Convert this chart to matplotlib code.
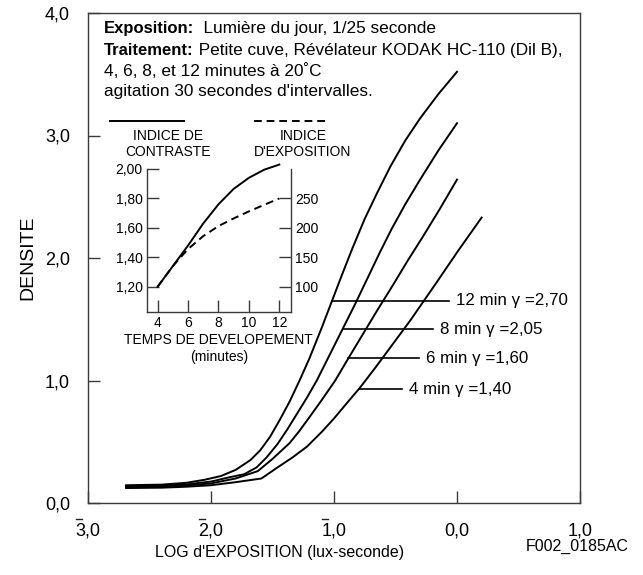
import numpy as np
import matplotlib
matplotlib.use("Agg")
import matplotlib.pyplot as plt
from matplotlib.lines import Line2D
from matplotlib.transforms import ScaledTranslation

plt.rcParams['font.family'] = ['Liberation Sans', 'DejaVu Sans']

# ---- main characteristic curves (log exposure, density) ----
x_12 = [-2.69, -2.4, -2.2, -2.05, -1.92, -1.8, -1.68, -1.6, -1.52, -1.44, -1.36, -1.28, -1.20,
        -1.10, -1.02, -0.94, -0.85, -0.75, -0.65, -0.54, -0.42, -0.30, -0.15, 0.0]
d_12 = [0.145, 0.15, 0.165, 0.19, 0.22, 0.27, 0.35, 0.43, 0.54, 0.68, 0.83, 1.00, 1.18,
        1.43, 1.64, 1.85, 2.08, 2.32, 2.53, 2.75, 2.96, 3.14, 3.34, 3.52]
x_8 = [-2.69, -2.4, -2.2, -2.0, -1.85, -1.73, -1.63, -1.55, -1.46, -1.38, -1.30, -1.22, -1.14,
       -1.04, -0.93, -0.83, -0.73, -0.63, -0.53, -0.42, -0.30, -0.15, 0.0]
d_8 = [0.137, 0.14, 0.152, 0.175, 0.21, 0.235, 0.29, 0.37, 0.48, 0.60, 0.73, 0.86, 1.00,
       1.20, 1.42, 1.62, 1.83, 2.04, 2.24, 2.44, 2.64, 2.88, 3.10]
x_6 = [-2.69, -2.4, -2.2, -2.0, -1.8, -1.62, -1.50, -1.36, -1.28, -1.20, -1.10, -0.99, -0.89,
       -0.77, -0.65, -0.52, -0.40, -0.28, -0.14, 0.0]
d_6 = [0.13, 0.133, 0.143, 0.16, 0.20, 0.26, 0.36, 0.49, 0.59, 0.70, 0.84, 1.00, 1.17,
       1.37, 1.57, 1.78, 1.98, 2.17, 2.40, 2.64]
x_4 = [-2.69, -2.4, -2.2, -2.0, -1.8, -1.59, -1.46, -1.34, -1.22, -1.10, -1.00, -0.90, -0.79,
       -0.66, -0.52, -0.38, -0.18, 0.01, 0.20]
d_4 = [0.122, 0.125, 0.133, 0.145, 0.17, 0.20, 0.29, 0.37, 0.46, 0.58, 0.69, 0.81, 0.94,
       1.11, 1.30, 1.49, 1.78, 2.06, 2.33]

curve_labels = ["12 min \u03b3 =2,70", "8 min \u03b3 =2,05", "6 min \u03b3 =1,60", "4 min \u03b3 =1,40"]
label_levels = [1.65, 1.42, 1.18, 0.93]
label_line_end = [-0.065, -0.195, -0.31, -0.447]

x_ticks = [-3, -2, -1, 0, 1]
x_ticklabels = ['3,0', '2,0', '1,0', '0,0', '1,0']
x_negative = [True, True, True, False, False]   # characteristic shown with an overbar
y_ticks = [0, 1, 2, 3, 4]
y_ticklabels = ['0,0', '1,0', '2,0', '3,0', '4,0']

# ---- inset: development time ----
t_min = [4, 5, 6, 7, 8, 9, 10, 11, 12]
contrast_idx = [1.20, 1.34, 1.48, 1.63, 1.76, 1.865, 1.94, 1.995, 2.03]
exposure_idx = [100, 135, 164, 186, 203, 216, 228, 239, 250]
inset_xticks = [4, 6, 8, 10, 12]
inset_lticks = [1.2, 1.4, 1.6, 1.8, 2.0]
inset_lticklabels = ['1,20', '1,40', '1,60', '1,80', '2,00']
inset_rticks = [100, 150, 200, 250]

W, H = 643, 575
fig = plt.figure(figsize=(W / 100, H / 100), dpi=100)
spine_c = '#3a3a3a'
TICKFS = 13

ax = fig.add_axes([88 / W, 1 - 503 / H, 492 / W, 490 / H])
ax.set_xlim(-3, 1)
ax.set_ylim(0, 4)
for s in ax.spines.values():
    s.set_color(spine_c)
    s.set_linewidth(1.0)
ax.set_xticks(x_ticks)
ax.set_xticklabels(x_ticklabels)
ax.set_yticks(y_ticks)
ax.set_yticklabels(y_ticklabels)
ax.tick_params(direction='in', length=8.5, width=1.0, color=spine_c, labelsize=TICKFS)
ax.tick_params(axis='x', pad=14)
ax.tick_params(axis='y', pad=13)
ax.set_ylabel('DENSITE', fontsize=14)
ax.yaxis.set_label_coords(-0.104, 0.5)
ax.set_xlabel("LOG d'EXPOSITION (lux-seconde)", fontsize=11.5)
ax.xaxis.set_label_coords(0.389, -0.086)

# overbars on negative characteristics (16 px under the axis, over the first digit)
for xt, neg in zip(x_ticks, x_negative):
    if neg:
        tr_l = ax.get_xaxis_transform() + ScaledTranslation(-0.125, -0.16, fig.dpi_scale_trans)
        tr_r = ax.get_xaxis_transform() + ScaledTranslation(-0.065, -0.16, fig.dpi_scale_trans)
        p0 = tr_l.transform((xt, 0))
        p1 = tr_r.transform((xt, 0))
        fig.add_artist(Line2D([p0[0] / fig.bbox.width, p1[0] / fig.bbox.width],
                              [p0[1] / fig.bbox.height, p1[1] / fig.bbox.height],
                              color='#222222', lw=1.0))

curves = [(x_12, d_12), (x_8, d_8), (x_6, d_6), (x_4, d_4)]
for (xs, ds), lab, lvl, xe in zip(curves, curve_labels, label_levels, label_line_end):
    ax.plot(xs, ds, color='black', lw=1.4, solid_joinstyle='round')
    xs0 = float(np.interp(lvl, ds, xs))
    ax.plot([xs0, xe], [lvl, lvl], color='black', lw=1.2)
    ax.annotate(lab, xy=(xe, lvl), xytext=(5, 0), textcoords='offset points',
                va='center', ha='left', fontsize=12.2)

# header text
lines = [("Exposition:", "  Lumi\u00e8re du jour, 1/25 seconde"),
         ("Traitement:", " Petite cuve, R\u00e9v\u00e9lateur KODAK HC-110 (Dil B),"),
         (None, "4, 6, 8, et 12 minutes \u00e0 20\u02daC"),
         (None, "agitation 30 secondes d'intervalles.")]
baselines = [33.3, 55, 75.5, 96]
for (b, r), py in zip(lines, baselines):
    yy = (503 - py) / 490
    xx = (104 - 88) / 492
    if b:
        t = ax.text(xx, yy, b, transform=ax.transAxes, fontsize=12, fontweight='bold', va='baseline')
        ax.annotate(r, xy=(1, 0), xycoords=t, va='bottom', ha='left', fontsize=12.4)
    else:
        ax.text(xx, yy, r, transform=ax.transAxes, fontsize=12.4, va='baseline')

# inset
ia = fig.add_axes([146.7 / W, 1 - 311.7 / H, 144 / W, 142.7 / H])
ia.set_xlim(3.28, 12.75)
ia.set_ylim(1.03, 2.0)
ia.spines['top'].set_visible(False)
for k in ['left', 'right', 'bottom']:
    ia.spines[k].set_color(spine_c)
    ia.spines[k].set_linewidth(1.0)
ia.plot(t_min, contrast_idx, color='black', lw=1.4, clip_on=False)
ia.set_xticks(inset_xticks)
ia.set_xticklabels([str(v) for v in inset_xticks])
ia.set_yticks(inset_lticks)
ia.set_yticklabels(inset_lticklabels)
ia.tick_params(direction='in', length=8.5, width=1.0, color=spine_c, labelsize=10, pad=3)
ia.yaxis.get_major_ticks()[-1].tick1line.set_visible(False)
ia.set_xlabel("TEMPS DE DEVELOPEMENT\n(minutes)", fontsize=10, labelpad=2, linespacing=1.35)
ia.patch.set_alpha(0)

ib = ia.twinx()
ib.set_ylim(100 + (1.03 - 1.2) * 250, 100 + (2.0 - 1.2) * 250)
ib.plot(t_min, exposure_idx, color='black', lw=1.4, ls=(0, (4, 2.5)))
for k in ['left', 'right', 'bottom', 'top']:
    ib.spines[k].set_visible(False)
ib.set_yticks(inset_rticks)
ib.set_yticklabels([str(v) for v in inset_rticks])
ib.tick_params(direction='in', length=8.5, width=1.0, color=spine_c, labelsize=10, pad=3)

# inset legend
fig.add_artist(Line2D([110 / W, 184 / W], [1 - 121 / H] * 2, color='black', lw=1.4))
fig.add_artist(Line2D([254 / W, 328 / W], [1 - 121 / H] * 2, color='black', lw=1.4, ls=(0, (4, 2.5))))
fig.text(168 / W, 1 - 144 / H, "INDICE DE\nCONTRASTE", ha='center', va='center', fontsize=10, linespacing=1.2)
fig.text(303 / W, 1 - 144 / H, "INDICE\nD'EXPOSITION", ha='center', va='center', fontsize=10, linespacing=1.2)

fig.text(577 / W, 1 - 546 / H, "F002_0185AC", ha='center', va='center', fontsize=11.5)

fig.savefig('out.png', dpi=100)
